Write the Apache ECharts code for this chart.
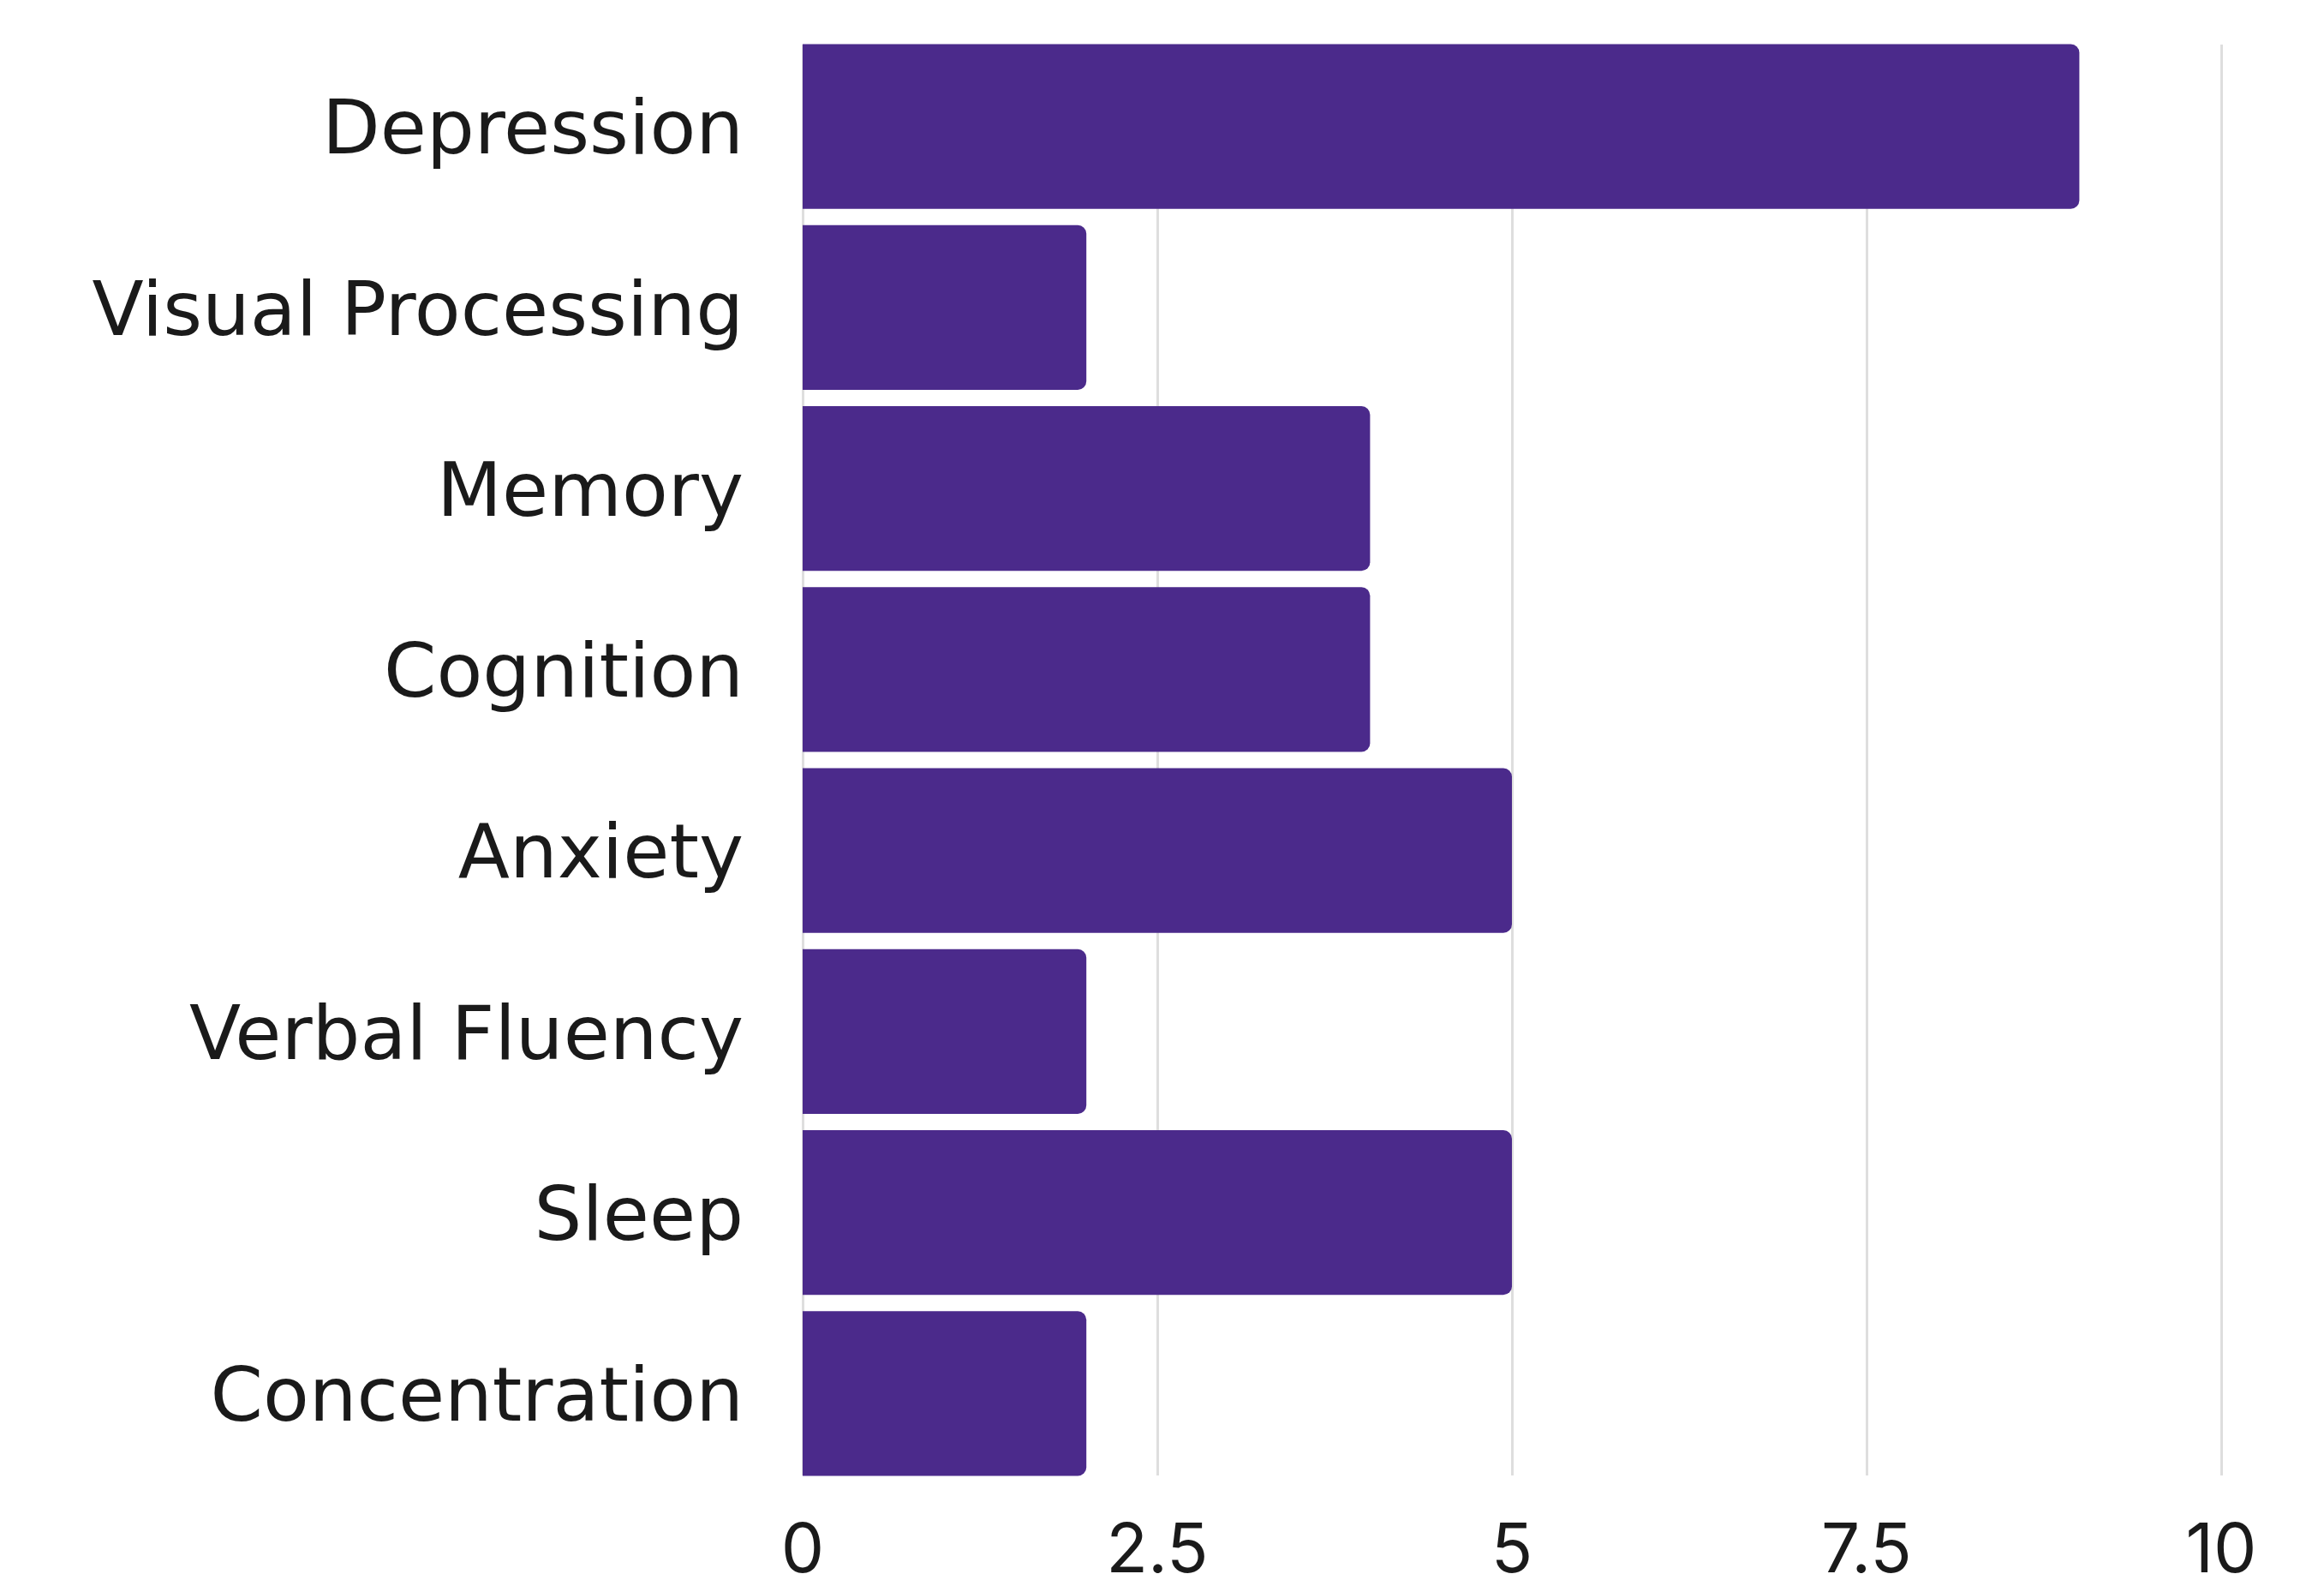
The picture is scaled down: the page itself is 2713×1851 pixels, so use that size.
<!DOCTYPE html>
<html>
<head>
<meta charset="utf-8">
<script src="https://cdn.jsdelivr.net/npm/echarts@6/dist/echarts.min.js"></script>
<style>
  html, body { margin: 0; padding: 0; background: #fff; }
  #chart { width: 2713px; height: 1851px; }
</style>
</head>
<body>
<div id="chart"></div>
<script>
// categories top to bottom as in the picture
const categories = ['Depression', 'Visual Processing', 'Memory', 'Cognition', 'Anxiety', 'Verbal Fluency', 'Sleep', 'Concentration'];
const scores = [9, 2, 4, 4, 5, 2, 5, 2];
const xTicks = [0, 2.5, 5, 7.5, 10];

const chart = echarts.init(document.getElementById('chart'));

const option = {
  backgroundColor: '#ffffff',
  animation: false,
  // grid 0 carries the gridlines and tick labels, grid 1 the bars
  grid: [
    { left: 937, right: 120, top: 52, bottom: 128 },
    { left: 937, right: 120, top: 42, bottom: 119 }
  ],
  xAxis: [{
    gridIndex: 0,
    type: 'value',
    min: xTicks[0],
    max: xTicks[xTicks.length - 1],
    interval: 2.5,
    axisLine: { show: false },
    axisTick: { show: false },
    splitLine: { show: true, lineStyle: { color: '#dedede', width: 3 } },
    axisLabel: {
      margin: 49,
      fontSize: 80,
      fontFamily: 'Inter',
      color: '#1a1a1a'
    }
  }, {
    gridIndex: 1,
    type: 'value',
    min: xTicks[0],
    max: xTicks[xTicks.length - 1],
    interval: 2.5,
    show: false
  }],
  yAxis: [{
    gridIndex: 0,
    type: 'category',
    data: categories,
    show: false
  }, {
    gridIndex: 1,
    type: 'category',
    data: categories,
    inverse: true,
    axisLine: { show: false },
    axisTick: { show: false },
    axisLabel: {
      margin: 69,
      formatter: v => '{c|' + v + '}',
      rich: {
        c: {
          fontSize: 88,
          lineHeight: 88,
          padding: [18, 0, 0, 0],
          fontFamily: 'DejaVu Sans',
          color: '#1a1a1a'
        }
      }
    }
  }],
  series: [{
    type: 'bar',
    xAxisIndex: 1,
    yAxisIndex: 1,
    data: scores,
    barCategoryGap: '9%',
    itemStyle: {
      color: '#4b2a8b',
      borderRadius: [0, 10, 10, 0]
    }
  }]
};

chart.setOption(option);
</script>
</body>
</html>
